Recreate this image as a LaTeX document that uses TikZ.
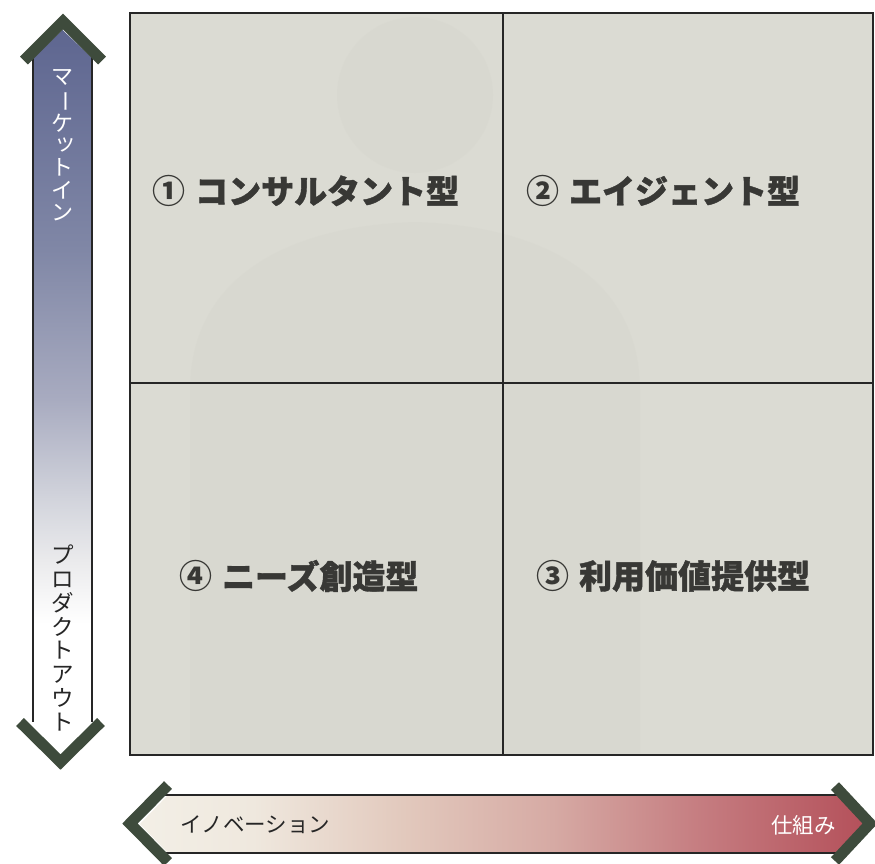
\documentclass[tikz,border=0pt]{standalone}
\usepackage{fontspec}
\newfontfamily\jp{Noto Sans CJK JP}
\newfontfamily\jpq{Noto Sans CJK JP}[BoldFeatures={FakeBold=1.2}]
\definecolor{gridbg}{HTML}{DBDBD3}
\definecolor{silh}{HTML}{D3D3CA}
\definecolor{chev}{HTML}{3E4B3C}
\definecolor{lbl}{HTML}{383835}
\definecolor{b1}{HTML}{5E6690}
\definecolor{b2}{HTML}{8087A6}
\definecolor{b3}{HTML}{A8ABC0}
\definecolor{b4}{HTML}{D2D4DC}
\definecolor{b5}{HTML}{EAEAEC}
\definecolor{r1}{HTML}{F3EFE6}
\definecolor{r2}{HTML}{EFE8DE}
\definecolor{r3}{HTML}{E2C9BD}
\definecolor{r4}{HTML}{D6AAA4}
\definecolor{r5}{HTML}{C57C80}
\definecolor{r6}{HTML}{B4505A}
\pgfdeclareverticalshading{vshade}{100bp}{color(0bp)=(white); color(34bp)=(white); color(38.4bp)=(b5); color(42.6bp)=(b4); color(49.5bp)=(b3); color(59.8bp)=(b2); color(75bp)=(b1); color(100bp)=(b1)}
\pgfdeclarehorizontalshading{hshade}{100bp}{color(0bp)=(r1); color(25bp)=(r1); color(32.8bp)=(r2); color(43.1bp)=(r3); color(53.4bp)=(r4); color(63.7bp)=(r5); color(75bp)=(r6); color(100bp)=(r6)}
\newcommand{\vbar}{\makebox[1em]{\rotatebox[origin=c]{-90}{ー}}}
\newcommand{\vsmall}[1]{\makebox[1em]{\hspace*{0.25em}\raisebox{0.12em}{#1}}}
\newcommand{\circnum}[1]{{\jp\bfseries #1}\hspace{0.3em}}
\tikzset{
  chevron/.style={draw=chev, line width=11pt, line cap=butt, line join=miter},
  shaftline/.style={draw=black!85, line width=1.3pt},
  gridline/.style={draw=black!85, line width=1.6pt},
  quad/.style={font=\jpq\bfseries\fontsize{33}{33}\selectfont, text=lbl, anchor=west, inner sep=0pt},
  vlabel/.style={align=center, inner sep=0pt},
  hlabel/.style={font=\jp\fontsize{21.5}{21.5}\selectfont, inner sep=0pt}
}
\begin{document}
\begin{tikzpicture}[x=1pt,y=-1pt]
\useasboundingbox (0,0) rectangle (875,863);
\fill[white] (0,0) rectangle (875,863);
% grid background
\fill[gridbg] (130,13) rectangle (873,755);
\begin{scope}
\clip (130,13) rectangle (873,755);
\fill[silh, opacity=0.25] (415,95) circle (78);
\fill[silh, opacity=0.25] (190,755) -- (190,390) .. controls (190,270) and (300,225) .. (415,222) .. controls (530,225) and (640,270) .. (640,390) -- (640,755) -- cycle;
\end{scope}
% grid
\coordinate (tl) at (130,13);
\coordinate (br) at (873,755);
\coordinate (mt) at (503,13);
\coordinate (mb) at (503,755);
\coordinate (ml) at (130,383);
\coordinate (mr) at (873,383);
\draw[gridline] (tl) rectangle (br);
\draw[gridline] (mt) -- (mb);
\draw[gridline] (ml) -- (mr);
% quadrant labels
\node[quad] (q1) at (152,191) {\circnum{①}コンサルタント型};
\node[quad] (q2) at (526,191) {\circnum{②}エイジェント型};
\node[quad] (q4) at (179,576) {\circnum{④}ニーズ創造型};
\node[quad] (q3) at (536,576) {\circnum{③}利用価値提供型};
% vertical arrow
\shade[shading=vshade] (33,58) -- (62.5,30) -- (92,58) -- (92,722) -- (61,754) -- (33,722) -- cycle;
\coordinate (vl1) at (33,55);
\coordinate (vl2) at (33,722);
\coordinate (vr1) at (92,55);
\coordinate (vr2) at (92,722);
\draw[shaftline] (vl1) -- (vl2);
\draw[shaftline] (vr1) -- (vr2);
\coordinate (ta) at (63,21.5);
\coordinate (tL) at (24,60.5);
\coordinate (tR) at (102,60.5);
\draw[chevron] (tL) -- (ta) -- (tR);
\coordinate (ba) at (60.5,762);
\coordinate (bL) at (20,722);
\coordinate (bR) at (101,722);
\draw[chevron] (bL) -- (ba) -- (bR);
\node[vlabel, text=white, font=\jp\fontsize{22}{22.4}\selectfont] (mi) at (62.5,145) {マ\\\vbar\\ケ\\\vsmall{ッ}\\ト\\イ\\ン};
\node[vlabel, text=black!85, font=\jp\fontsize{22.5}{23.8}\selectfont] (po) at (62.5,638) {プ\\ロ\\ダ\\ク\\ト\\ア\\ウ\\ト};
% horizontal arrow
\shade[shading=hshade] (140,824) -- (168,795) -- (848,795) -- (866,824) -- (848,853) -- (168,853) -- cycle;
\coordinate (ht1) at (164,795);
\coordinate (ht2) at (846,795);
\coordinate (hb1) at (164,853);
\coordinate (hb2) at (846,853);
\draw[shaftline] (ht1) -- (ht2);
\draw[shaftline] (hb1) -- (hb2);
\coordinate (la) at (130,823.5);
\coordinate (lT) at (168,785);
\coordinate (lB) at (168,862);
\draw[chevron] (lT) -- (la) -- (lB);
\coordinate (ra) at (870,823.5);
\coordinate (rT) at (835,786);
\coordinate (rB) at (835,861);
\draw[chevron] (rT) -- (ra) -- (rB);
\node[hlabel, text=black!85, anchor=west] (inno) at (180,825) {イノベーション};
\node[hlabel, text=white, anchor=east] (shikumi) at (836,825) {仕組み};
\end{tikzpicture}
\end{document}
